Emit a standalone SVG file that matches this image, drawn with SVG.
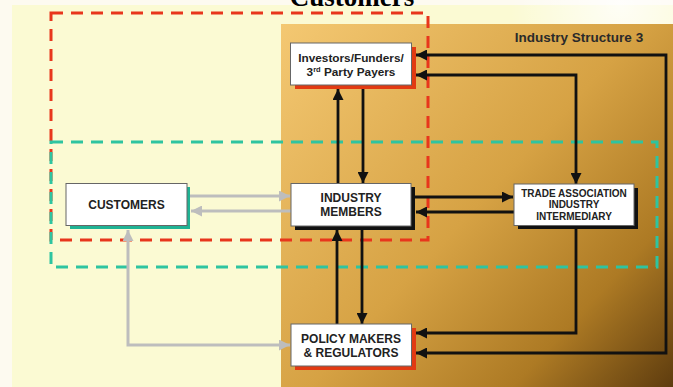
<svg xmlns="http://www.w3.org/2000/svg" width="673" height="387" viewBox="0 0 673 387">
  <defs>
    <linearGradient id="brown" gradientUnits="userSpaceOnUse" x1="281" y1="24" x2="673" y2="387">
      <stop offset="0" stop-color="#f4c872"/>
      <stop offset="0.5" stop-color="#d6a244"/>
      <stop offset="0.78" stop-color="#ad7a24"/>
      <stop offset="1" stop-color="#5e3c0e"/>
    </linearGradient>
    <radialGradient id="glow" gradientUnits="userSpaceOnUse" cx="620" cy="5" r="110">
      <stop offset="0" stop-color="#ffffff" stop-opacity="0.8"/>
      <stop offset="1" stop-color="#ffffff" stop-opacity="0"/>
    </radialGradient>
    <marker id="ah" viewBox="0 0 11 11" refX="11" refY="5.5" markerWidth="11" markerHeight="11" markerUnits="userSpaceOnUse" orient="auto-start-reverse">
      <path d="M0,0 L11,5.5 L0,11 z" fill="#111"/>
    </marker>
    <marker id="ahg" viewBox="0 0 11 11" refX="11" refY="5.5" markerWidth="11" markerHeight="11" markerUnits="userSpaceOnUse" orient="auto-start-reverse">
      <path d="M0,0 L11,5.5 L0,11 z" fill="#bdbdbd"/>
    </marker>
    <style>
      .box { fill: #ffffff; stroke: #666; stroke-width: 1; }
      .sh-red { fill: #e23a12; }
      .sh-teal { fill: #1fb394; }
      .sh-black { fill: #111; }
      .lbl { font-family: "Liberation Sans", Arial, sans-serif; font-weight: bold; fill: #222; text-anchor: middle; }
      .blk { fill: none; stroke: #111; stroke-width: 2.8; }
      .gry { fill: none; stroke: #bdbdbd; stroke-width: 3; }
      .dash { fill: none; stroke-width: 3; stroke-dasharray: 12 8; }
    </style>
  </defs>

  <!-- background -->
  <rect x="0" y="0" width="673" height="387" fill="#fdfaf0"/>
  <rect x="12" y="5" width="661" height="382" fill="#fbfad3"/>
  <rect x="430" y="0" width="243" height="24" fill="url(#glow)"/>
  <rect x="281" y="24" width="392" height="363" fill="url(#brown)"/>

  <!-- title -->
  <text x="352" y="6" font-family="'Liberation Serif', 'Times New Roman', serif" font-weight="bold" font-size="27" text-anchor="middle" fill="#000">Customers</text>

  <text x="579" y="42" font-family="'Liberation Sans', Arial, sans-serif" font-weight="bold" font-size="13.5" text-anchor="middle" fill="#2a2a2a">Industry Structure 3</text>

  <!-- grouping outlines -->
  <rect class="dash" x="51" y="13" width="377" height="227" stroke="#e8361c"/>
  <rect class="dash" x="51" y="142" width="606" height="125" stroke="#2ec4a0"/>

  <!-- connectors -->
  <g id="connectors">
    <path class="blk" d="M416,55 H666 V353 H416" marker-start="url(#ah)" marker-end="url(#ah)"/>
    <path class="blk" d="M416,75 H576 V184" marker-start="url(#ah)" marker-end="url(#ah)"/>
    <path class="blk" d="M576,229 V333 H416" marker-end="url(#ah)"/>
    <path class="blk" d="M338,183 V89" marker-end="url(#ah)"/>
    <path class="blk" d="M363,89 V183" marker-end="url(#ah)"/>
    <path class="blk" d="M337,324 V230" marker-end="url(#ah)"/>
    <path class="blk" d="M362,230 V324" marker-end="url(#ah)"/>
    <path class="blk" d="M415,197 H513" marker-end="url(#ah)"/>
    <path class="blk" d="M514,212 H416" marker-end="url(#ah)"/>
    <path class="gry" d="M190,196 H290" marker-end="url(#ahg)"/>
    <path class="gry" d="M291,211 H191" marker-end="url(#ahg)"/>
    <path class="gry" d="M128,230 V345 H290" marker-start="url(#ahg)" marker-end="url(#ahg)"/>
  </g>

  <!-- nodes -->
  <g id="investors">
    <rect class="sh-red" x="295" y="47" width="121" height="42"/>
    <rect class="box" x="290.5" y="43" width="121" height="42"/>
    <text class="lbl" x="351" y="62" font-size="11.8">Investors/Funders/</text>
    <text class="lbl" x="351" y="76" font-size="11.8">3<tspan font-size="7.5" dy="-4">rd</tspan><tspan dy="4"> Party Payers</tspan></text>
  </g>

  <g id="customers">
    <rect class="sh-teal" x="70" y="187" width="120" height="42"/>
    <rect class="box" x="66" y="183.5" width="121" height="42"/>
    <text class="lbl" x="126.5" y="209" font-size="12">CUSTOMERS</text>
  </g>

  <g id="industry-members">
    <rect class="sh-black" x="295" y="187" width="120" height="43"/>
    <rect class="box" x="291" y="183.5" width="120" height="42.5"/>
    <text class="lbl" x="351" y="202" font-size="12">INDUSTRY</text>
    <text class="lbl" x="351" y="216" font-size="12">MEMBERS</text>
  </g>

  <g id="trade-association">
    <rect class="sh-black" x="518" y="188" width="120" height="41"/>
    <rect class="box" x="514" y="184" width="120" height="41.5"/>
    <text class="lbl" x="574" y="196.5" font-size="10">TRADE ASSOCIATION</text>
    <text class="lbl" x="574" y="208" font-size="10">INDUSTRY</text>
    <text class="lbl" x="574" y="219.5" font-size="10">INTERMEDIARY</text>
  </g>

  <g id="policy-makers">
    <rect class="sh-red" x="295" y="328" width="121" height="42"/>
    <rect class="box" x="291" y="324" width="120.5" height="42"/>
    <text class="lbl" x="351" y="342.5" font-size="12">POLICY MAKERS</text>
    <text class="lbl" x="351" y="356.5" font-size="12">&amp; REGULATORS</text>
  </g>
</svg>
